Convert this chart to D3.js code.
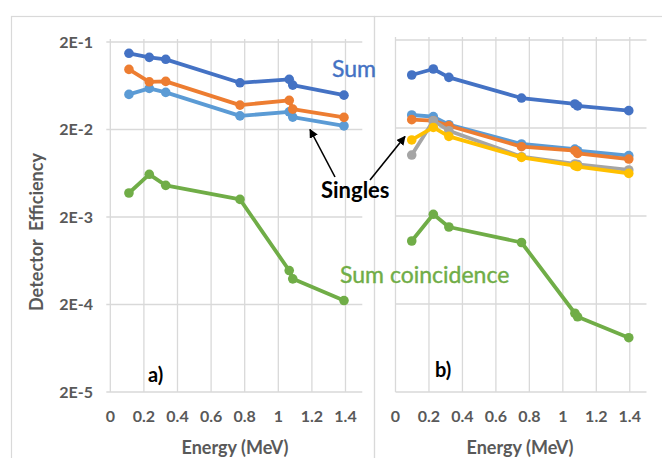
<!DOCTYPE html>
<html>
<head>
<meta charset="utf-8">
<script src="https://cdn.jsdelivr.net/npm/d3@7"></script>
<style>
  html, body { margin: 0; padding: 0; background: #fff; }
  svg { display: block; font-family: Lato, "Open Sans", sans-serif; }
</style>
</head>
<body>
<svg id="chart" width="662" height="458"></svg>
<script>
// ---------- data ----------
const xTicks = [0, 0.2, 0.4, 0.6, 0.8, 1, 1.2, 1.4];
const yTicks = [2e-5, 2e-4, 2e-3, 2e-2, 2e-1];
const yTickLabels = ["2E-5", "2E-4", "2E-3", "2E-2", "2E-1"];

// panel a)
const energyA = [0.111, 0.232, 0.330, 0.772, 1.065, 1.086, 1.391];
const sumA = [0.1485, 0.1336, 0.1268, 0.0684, 0.0748, 0.0643, 0.0494];
const singlesLightA = [0.0504, 0.0590, 0.0531, 0.0286, 0.0318, 0.0277, 0.0220];
const singlesOrangeA = [0.0973, 0.0702, 0.0709, 0.0380, 0.0430, 0.0342, 0.0275];
const coincA = [0.00376, 0.00615, 0.00460, 0.00318, 0.000489, 0.000393, 0.000222];

// panel b)
const energyB = [0.097, 0.226, 0.319, 0.753, 1.072, 1.088, 1.394];
const sumB = [0.0800, 0.0936, 0.0752, 0.0438, 0.0375, 0.0356, 0.0315];
const singlesLightB = [0.0281, 0.0269, 0.0218, 0.01316, 0.01153, 0.01104, 0.0097];
const singlesOrangeB = [0.0249, 0.0242, 0.0212, 0.01226, 0.01104, 0.01028, 0.00888];
const singlesGrayB = [0.00986, 0.0242, 0.01862, 0.00944, 0.0078, 0.0077, 0.00667];
const singlesYellowB = [0.01462, 0.0203, 0.01606, 0.00927, 0.00746, 0.0073, 0.0061];
const coincB = [0.00104, 0.00209, 0.00150, 0.00100, 0.000157, 0.000143, 0.0000828];

const C = { sum: "#4472C4", orange: "#ED7D31", gray: "#A5A5A5", yellow: "#FFC000", light: "#5B9BD5", green: "#70AD47" };

const panels = [
  { x0: 110.3, x1: 362.3, y0: 392, y1: 42, energy: energyA, tickExt: 4, titleX: 235,
    series: [[sumA, C.sum], [singlesLightA, C.light], [singlesOrangeA, C.orange], [coincA, C.green]],
    yLabels: true, tag: "a)", tagX: 148, tagY: 382 },
  { x0: 395.5, x1: 646.5, y0: 392, y1: 40, energy: energyB, tickExt: 0, titleX: 520,
    series: [[sumB, C.sum], [singlesLightB, C.light], [singlesOrangeB, C.orange], [singlesGrayB, C.gray], [singlesYellowB, C.yellow], [coincB, C.green]],
    yLabels: false, tag: "b)", tagX: 435, tagY: 377 }
];

const svg = d3.select("#chart");
const grid = "#d9d9d9", textGray = "#595959";

// panel frames
svg.append("rect").attr("x", 11.5).attr("y", 16.5).attr("width", 363).attr("height", 460)
  .attr("fill", "none").attr("stroke", grid).attr("stroke-width", 1.2);
svg.append("rect").attr("x", 374.5).attr("y", 16.5).attr("width", 320).attr("height", 460)
  .attr("fill", "none").attr("stroke", grid).attr("stroke-width", 1.2);

panels.forEach(p => {
  const x = d3.scaleLinear().domain([0, 1.5]).range([p.x0, p.x1]);
  const y = d3.scaleLog().domain([2e-5, 2e-1]).range([p.y0, p.y1]);
  const g = svg.append("g");

  // vertical gridlines
  g.append("g").selectAll("line").data(xTicks).join("line")
    .attr("x1", d => x(d)).attr("x2", d => x(d))
    .attr("y1", p.y1 - 3).attr("y2", p.y0)
    .attr("stroke", grid).attr("stroke-width", 1.3);
  // horizontal gridlines
  g.append("g").selectAll("line").data(yTicks).join("line")
    .attr("x1", p.x0 - p.tickExt).attr("x2", p.x1)
    .attr("y1", d => y(d)).attr("y2", d => y(d))
    .attr("stroke", grid).attr("stroke-width", 1.3);

  // x tick labels
  g.append("g").selectAll("text").data(xTicks).join("text")
    .attr("x", d => x(d)).attr("y", 422)
    .attr("text-anchor", "middle").attr("fill", textGray)
    .attr("font-size", 16).attr("font-weight", 700)
    .text(d => d3.format("")(d));

  if (p.yLabels) {
    g.append("g").selectAll("text").data(yTicks).join("text")
      .attr("x", 93).attr("y", d => y(d)).attr("dy", "0.35em")
      .attr("text-anchor", "end").attr("fill", textGray)
      .attr("font-size", 16).attr("font-weight", 700)
      .text((d, i) => yTickLabels[i]);
  }

  // x axis title
  g.append("text").attr("x", p.titleX).attr("y", 454)
    .attr("text-anchor", "middle").attr("fill", textGray)
    .attr("font-size", 18).attr("font-weight", 700)
    .text("Energy (MeV)");

  // series
  const line = d3.line().x(d => x(d[0])).y(d => y(d[1]));
  p.series.forEach(([vals, col]) => {
    const pts = p.energy.map((e, i) => [e, vals[i]]);
    const sg = g.append("g");
    sg.append("path").datum(pts).attr("d", line)
      .attr("fill", "none").attr("stroke", col).attr("stroke-width", 3.8)
      .attr("stroke-linejoin", "round");
    sg.selectAll("circle").data(pts).join("circle")
      .attr("cx", d => x(d[0])).attr("cy", d => y(d[1])).attr("r", 4.8)
      .attr("fill", col);
  });

  // panel tag
  g.append("text").attr("x", p.tagX).attr("y", p.tagY)
    .attr("font-size", 20).attr("font-weight", 700).attr("fill", "#000")
    .text(p.tag);
});

// y axis title
svg.append("text")
  .attr("transform", "translate(43,232) rotate(-90)")
  .attr("text-anchor", "middle").attr("fill", textGray)
  .attr("font-size", 18).attr("font-weight", 700)
  .attr("xml:space", "preserve")
  .text("Detector  Efficiency");

// annotations
svg.append("text").attr("x", 332).attr("y", 77).attr("fill", C.sum)
  .attr("font-size", 23).attr("stroke", C.sum).attr("stroke-width", 0.4).text("Sum");
svg.append("text").attr("x", 340).attr("y", 283).attr("fill", C.green)
  .attr("font-size", 23).attr("stroke", C.green).attr("stroke-width", 0.4).text("Sum coincidence");
svg.append("text").attr("x", 321).attr("y", 198).attr("fill", "#000")
  .attr("font-size", 22).attr("font-weight", 700).text("Singles");

// arrows
const defs = svg.append("defs");
defs.append("marker").attr("id", "ah").attr("viewBox", "0 0 10 10")
  .attr("refX", 9).attr("refY", 5).attr("markerWidth", 9).attr("markerHeight", 9)
  .attr("markerUnits", "userSpaceOnUse").attr("orient", "auto")
  .append("path").attr("d", "M0,0 L10,5 L0,10 z").attr("fill", "#000");
const arrows = [[[335, 177], [310, 129.5]], [[370, 180], [405, 136.5]]];
svg.append("g").selectAll("line").data(arrows).join("line")
  .attr("x1", d => d[0][0]).attr("y1", d => d[0][1])
  .attr("x2", d => d[1][0]).attr("y2", d => d[1][1])
  .attr("stroke", "#000").attr("stroke-width", 1.6)
  .attr("marker-end", "url(#ah)");
</script>
</body>
</html>
